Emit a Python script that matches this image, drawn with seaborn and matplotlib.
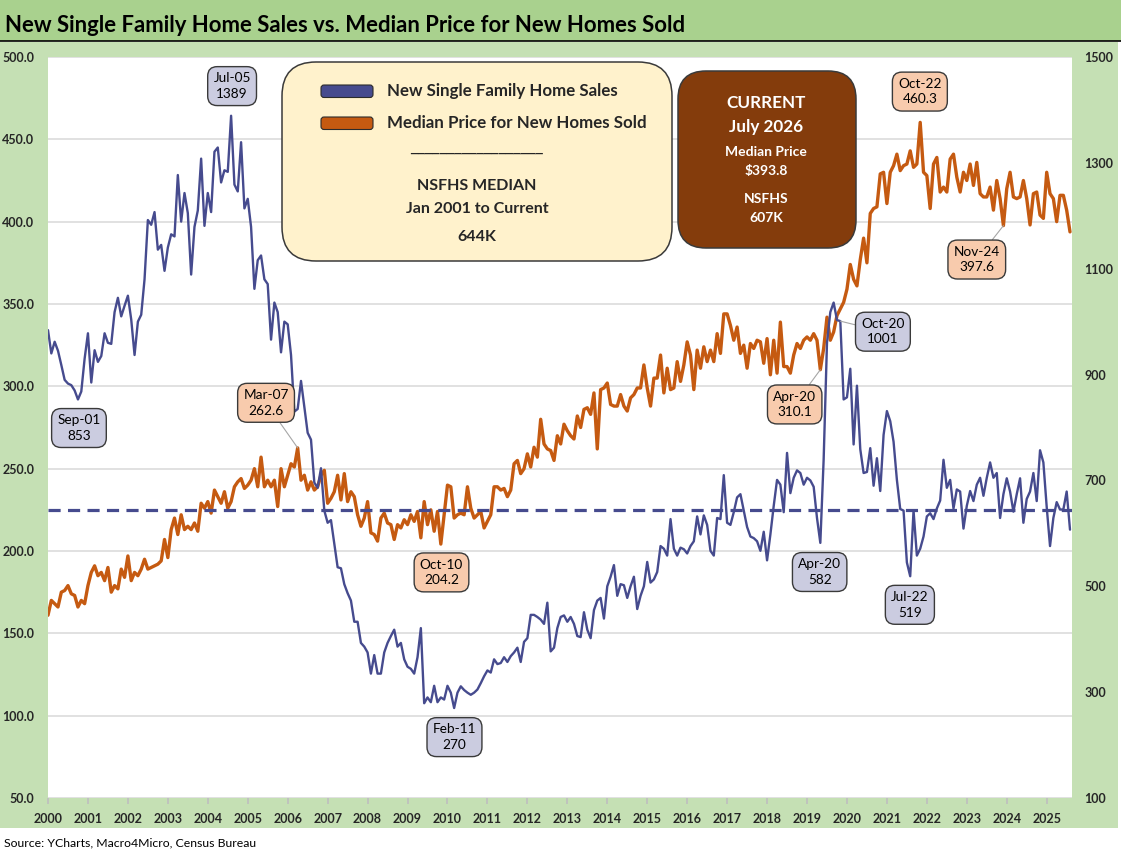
import numpy as np
import pandas as pd
import matplotlib
matplotlib.use("Agg")
import matplotlib.pyplot as plt
import seaborn as sns
from matplotlib.patches import FancyBboxPatch, Rectangle

# ---------------- data (monthly, first point Dec-2000, last Jul-2026) ----------------
sales = [  # New single family home sales, thousands (right axis)
    984, 940, 962, 945, 918, 890, 883, 880, 870, 853,
    868, 930, 978, 885, 946, 924, 935, 978, 960, 958,
    1018, 1045, 1010, 1030, 1049, 1004, 937, 1000, 1013, 1080,
    1192, 1183, 1207, 1136, 1145, 1096, 1140, 1165, 1161, 1277,
    1189, 1243, 1205, 1089, 1179, 1210, 1308, 1181, 1243, 1207,
    1321, 1329,
    1263, 1286, 1283, 1389, 1259, 1246, 1339, 1214, 1232, 1179,
    1062, 1116, 1125, 1080, 1071, 966, 1036, 1018, 942, 1000,
    995, 937, 830, 835, 888, 839, 790, 777, 696, 686,
    723, 643, 620, 625, 580, 536, 534, 504, 487, 473,
    433, 433, 393, 386, 375, 335, 370, 335, 335, 375,
    393, 406, 418, 386, 393, 362, 348, 344, 335, 366,
    421, 279, 290, 281, 312, 281, 290, 286, 312, 299,
    270, 299, 311, 304, 299, 295, 299, 305, 317, 330,
    341, 337, 362, 353, 355, 366, 357, 368, 375, 384,
    357, 395, 402, 446, 446, 442, 437, 429, 469, 377,
    384, 421,
    442, 445, 433, 442, 429, 406, 404, 451, 418, 402,
    455, 473, 478, 439, 500, 518, 540, 482, 504, 502,
    478, 500, 518, 457, 482, 500, 546, 507, 513, 527,
    576, 571, 558, 627, 571, 558, 573, 570, 562, 576,
    585, 632, 598, 634, 616, 567, 558, 629, 627, 710,
    620,
    616, 640, 668, 674, 643, 612, 594, 591, 585, 567,
    603, 549, 598, 652, 701, 692, 640, 752, 676, 705,
    719, 714, 692, 705, 700, 688, 629, 582, 740, 960,
    1018, 1036, 1003, 1001, 853, 857, 911, 768, 879, 759,
    714, 716, 761, 690, 742, 680, 786, 831, 812, 773,
    701, 646,
    643, 545, 519, 643, 558, 571, 594, 632, 638, 627,
    647, 662, 739, 686, 701, 647, 683, 679, 609, 652,
    680, 661, 692, 705, 671, 705, 734, 705, 714, 629,
    674, 704, 679, 641, 674, 704, 620, 665, 679, 714,
    661, 757, 734, 650, 576, 629, 659, 645, 645, 679,
    607,
]

price = [  # Median price for new homes sold, $K (left axis)
    161, 170, 168, 166, 175, 176, 179, 174, 173, 166,
    170, 168, 179, 187, 191, 185, 187, 182, 190, 175,
    179, 177, 189, 184, 197, 182, 187, 185, 189, 195,
    189, 190, 191, 192, 194, 207, 196, 213, 220, 210,
    222, 213, 215, 213, 217, 212, 229, 226, 230, 223,
    237, 233,
    229, 236, 226, 230, 239, 242, 244, 238, 240, 243,
    250, 239, 257, 239, 243, 239, 243, 227, 250, 239,
    246, 253, 251, 262.6, 243, 246, 237, 242, 237, 239,
    246, 249, 229, 232, 236, 246, 231, 247, 230, 236,
    233, 222, 215, 220, 230, 211, 210, 206, 220, 223,
    217, 216, 207, 216, 214, 219, 216, 222, 218, 224,
    208, 230, 216, 225, 212, 224, 204.2, 222, 240, 239,
    220, 222, 223, 222, 239, 226, 220, 222, 224, 214,
    218, 222, 239, 239, 237, 238, 233, 237, 253, 255,
    247, 250, 259, 251, 263, 257, 280, 265, 262, 261,
    255, 270,
    265, 277, 273, 270, 268, 282, 275, 286, 287, 283,
    296, 262, 298, 299, 302, 289, 288, 288, 295, 288,
    285, 293, 295, 299, 299, 313, 299, 288, 305, 305,
    319, 296, 311, 298, 299, 315, 303, 313, 327, 319,
    298, 322, 311, 324, 315, 322, 315, 332, 320, 344,
    344,
    337, 328, 336, 320, 325, 311, 326, 323, 328, 327,
    314, 329, 307, 328, 308, 339, 312, 312, 308, 319,
    326, 323, 328, 330, 328, 332, 328, 310.1, 323, 342,
    328, 333, 343, 347, 351, 359, 374, 365, 361, 377,
    390, 375, 405, 408, 409, 429, 430, 411, 430, 434,
    441,
    431, 434, 435, 443, 433, 435, 460.3, 430, 428, 408,
    435, 439, 418, 421, 418, 438, 441, 427, 418, 430,
    425, 435, 422, 436, 417, 415, 415, 421, 407, 425,
    414, 397.6, 420, 430, 415, 414, 415, 425, 414, 398,
    417, 418, 404, 402, 430, 417, 414, 400, 416, 416,
    407, 393.8,
]

year_labels = [str(y) for y in range(2000, 2026)]
median_sales = 644
start_month = "2000-12-01"

# annotation callouts: (series, month index)
callouts_sales = [55, 9, 122, 238, 232, 259]
callouts_price = [75, 118, 232, 262, 287]

# ---------------- styling ----------------
BLUE = "#464B8E"
ORANGE = "#C55A11"
BLUE_FILL = "#CBCCE0"
ORANGE_FILL = "#F8CBAD"
EDGE = "#3A3A3A"

sns.set_theme(style="white")
plt.rcParams["font.family"] = ["Lato", "DejaVu Sans"]

W, H = 1121, 858
fig = plt.figure(figsize=(W / 100, H / 100), dpi=100)

# background axes in pixel coordinates
bg = fig.add_axes([0, 0, 1, 1], zorder=0)
bg.set_xlim(0, W)
bg.set_ylim(H, 0)
bg.axis("off")
bg.add_patch(Rectangle((0, 0), W, 40.5, color="#A9D18E", lw=0))
bg.add_patch(Rectangle((0, 41.5), 1118, 786.5, color="#C5E0B4", lw=0))
bg.plot([0, W], [40.8, 40.8], color="black", lw=1.2)
bg.text(5, 26, "New Single Family Home Sales vs. Median Price for New Homes Sold",
        fontsize=15.9, fontweight="bold", ha="left", va="center", color="black")
bg.text(4, 843, "Source: YCharts, Macro4Micro, Census Bureau",
        fontsize=8.8, ha="left", va="center", color="black")

# main axes
ax = fig.add_axes([48 / W, 1 - 798 / H, (1072 - 48) / W, (798 - 57) / H], zorder=1)
ax.set_facecolor("white")
ax2 = ax.twinx()
ax2.set_zorder(2)
ax2.patch.set_visible(False)

n = len(price)
df = pd.DataFrame({"month": np.arange(n), "price": price})
df_s = pd.DataFrame({"month": np.arange(len(sales)), "sales": sales})

sns.lineplot(data=df, x="month", y="price", ax=ax, color=ORANGE, linewidth=2.4)
sns.lineplot(data=df_s, x="month", y="sales", ax=ax2, color=BLUE, linewidth=1.7)
ax2.axhline(median_sales, color=BLUE, lw=2.3, ls=(0, (3.8, 2.3)))

ax.set_xlim(0, 307.6)
ax.set_ylim(50, 500)
ax2.set_ylim(100, 1500)

yl = np.arange(50, 501, 50)
ax.set_yticks(yl)
ax.set_yticklabels([f"{v:.1f}" for v in yl], fontsize=9, fontweight="bold")
yr = np.arange(100, 1501, 200)
ax2.set_yticks(yr)
ax2.set_yticklabels([f"{v}" for v in yr], fontsize=9, fontweight="bold")
xt = np.arange(0, 12 * len(year_labels), 12)
ax.set_xticks(xt)
ax.set_xticklabels(year_labels, fontsize=9, fontweight="bold")

ax.tick_params(axis="y", length=0, pad=10)
ax2.tick_params(axis="y", length=0, pad=9)
ax.tick_params(axis="x", length=4, color="#BFBFBF", pad=7, direction="out", bottom=True)
ax.yaxis.grid(True, color="#D9D9D9", lw=1.1)
ax.xaxis.grid(False)
ax.set_axisbelow(True)
for a in (ax, ax2):
    a.set_xlabel("")
    a.set_ylabel("")
    for s in a.spines.values():
        s.set_visible(False)

# callout boxes
dates = pd.date_range(start_month, periods=n, freq="MS")
text_pos = {  # position of the label box (month, value on the series' axis)
    ("s", 55): (55.3, 1445), ("s", 9): (9.3, 799), ("s", 122): (122.1, 215),
    ("s", 238): (250.8, 981), ("s", 232): (231.8, 527), ("s", 259): (258.9, 465),
    ("p", 75): (65.5, 290), ("p", 118): (118.2, 187), ("p", 232): (224.3, 289),
    ("p", 262): (261.9, 479), ("p", 287): (279.0, 377),
}
leaders = {("s", 238), ("p", 75), ("p", 232), ("p", 287)}

def callout(kind, i):
    if kind == "s":
        val, tr, fc, txt = sales[i], ax2.transData, BLUE_FILL, f"{sales[i]:.0f}"
    else:
        val, tr, fc, txt = price[i], ax.transData, ORANGE_FILL, f"{price[i]:.1f}"
    label = dates[i].strftime("%b-%y") + "\n" + txt
    tx, ty = text_pos[(kind, i)]
    arrow = None
    if (kind, i) in leaders:
        arrow = dict(arrowstyle="-", color="#A6A6A6", lw=0.8, shrinkA=0, shrinkB=0)
    ax2.annotate(label, xy=(i, val), xycoords=tr, xytext=(tx, ty), textcoords=tr,
                 ha="center", va="center", fontsize=9.8, linespacing=1.35,
                 color="black", zorder=10,
                 bbox=dict(boxstyle="round,pad=0.42,rounding_size=0.7",
                           fc=fc, ec=EDGE, lw=1.0),
                 arrowprops=arrow)

for i in callouts_sales:
    callout("s", i)
for i in callouts_price:
    callout("p", i)

# overlay for legend panel and current panel
ov = fig.add_axes([0, 0, 1, 1], zorder=5)
ov.set_xlim(0, W)
ov.set_ylim(H, 0)
ov.axis("off")
ov.patch.set_visible(False)

ov.add_patch(FancyBboxPatch((282, 62), 390, 199, boxstyle="round,pad=0,rounding_size=34",
                            fc="#FFF2CC", ec=EDGE, lw=1.1))
ov.add_patch(FancyBboxPatch((321, 85), 52, 12.5, boxstyle="round,pad=0,rounding_size=3",
                            fc=BLUE, ec="#2B2B2B", lw=0.8))
ov.add_patch(FancyBboxPatch((321, 117), 52, 12.5, boxstyle="round,pad=0,rounding_size=3",
                            fc=ORANGE, ec="#2B2B2B", lw=0.8))
ov.text(387, 91, "New Single Family Home Sales", fontsize=12.2, fontweight="bold",
        ha="left", va="center")
ov.text(387, 123, "Median Price for New Homes Sold", fontsize=12.2, fontweight="bold",
        ha="left", va="center")
ov.text(477, 146, "_" * 18, fontsize=10.5, family=["DejaVu Sans"], ha="center", va="center")
ov.text(477, 186, "NSFHS MEDIAN", fontsize=11.5, fontweight="bold", ha="center", va="center")
ov.text(477, 209, "Jan 2001 to Current", fontsize=11.5, fontweight="bold", ha="center", va="center")
ov.text(477, 237, f"{median_sales}K", fontsize=11.5, fontweight="bold", ha="center", va="center")

ov.add_patch(FancyBboxPatch((678, 71), 178, 177, boxstyle="round,pad=0,rounding_size=28",
                            fc="#843C0C", ec=EDGE, lw=1.1))
cur = dates[-1].strftime("%B %Y")
ov.text(766, 103, "CURRENT", fontsize=12.3, fontweight="bold", color="white", ha="center", va="center")
ov.text(766, 127, cur, fontsize=12.3, fontweight="bold", color="white", ha="center", va="center")
ov.text(766, 152, "Median Price", fontsize=10, fontweight="bold", color="white", ha="center", va="center")
ov.text(766, 171, f"${price[-1]:.1f}", fontsize=10, fontweight="bold", color="white", ha="center", va="center")
ov.text(766, 199, "NSFHS", fontsize=10, fontweight="bold", color="white", ha="center", va="center")
ov.text(766, 218, f"{sales[-1]}K", fontsize=10, fontweight="bold", color="white", ha="center", va="center")

fig.savefig("out.png", dpi=100)
